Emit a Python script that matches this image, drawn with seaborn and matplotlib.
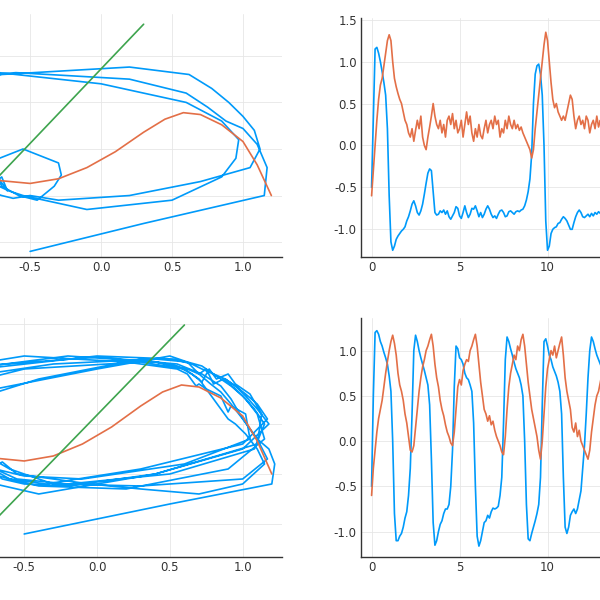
import numpy as np
import pandas as pd
import matplotlib
matplotlib.use("Agg")
import matplotlib.pyplot as plt
import seaborn as sns

t = np.round(np.arange(0, 20.05, 0.1), 1)

uA = [-0.5,0.3,1.15,1.17,1.1,1.0,0.88,0.75,0.6,0.2,
 -0.6,-1.15,-1.25,-1.2,-1.12,-1.08,-1.05,-1.02,-1.0,-0.97,
 -0.9,-0.85,-0.78,-0.7,-0.66,-0.72,-0.8,-0.83,-0.78,-0.7,
 -0.58,-0.45,-0.33,-0.28,-0.3,-0.55,-0.8,-0.83,-0.82,-0.78,
 -0.8,-0.77,-0.82,-0.78,-0.85,-0.88,-0.84,-0.8,-0.73,-0.75,
 -0.84,-0.87,-0.8,-0.72,-0.8,-0.86,-0.82,-0.75,-0.76,-0.72,
 -0.78,-0.85,-0.8,-0.86,-0.82,-0.76,-0.72,-0.76,-0.82,-0.86,
 -0.84,-0.87,-0.82,-0.78,-0.77,-0.8,-0.85,-0.84,-0.79,-0.78,
 -0.8,-0.82,-0.79,-0.78,-0.79,-0.77,-0.76,-0.72,-0.65,-0.55,
 -0.4,-0.1,0.5,0.85,0.95,0.97,0.85,0.6,0.0,-0.9,
 -1.25,-1.2,-1.05,-1.0,-0.98,-0.97,-0.93,-0.92,-0.88,-0.85,
 -0.87,-0.9,-0.95,-1.0,-1.0,-0.92,-0.85,-0.8,-0.77,-0.8,
 -0.85,-0.86,-0.84,-0.82,-0.85,-0.81,-0.84,-0.8,-0.82,-0.79,
 -0.81,-0.83,-0.8,-0.82,-0.78,-0.8,-0.84,-0.8,-0.78,-0.82,
 -0.8,-0.77,-0.8,-0.84,-0.8,-0.76,-0.78,-0.82,-0.8,-0.76,
 -0.74,-0.7,-0.62,-0.5,-0.3,0.2,0.7,1.05,1.12,1.08,
 1.0,0.9,0.78,0.62,0.2,-0.7,-1.2,-1.22,-1.15,-1.08,
 -1.03,-1.0,-0.97,-0.93,-0.9,-0.88,-0.86,-0.84,-0.85,-0.82,
 -0.8,-0.83,-0.86,-0.82,-0.79,-0.81,-0.84,-0.8,-0.78,-0.82,
 -0.85,-0.81,-0.79,-0.83,-0.8,-0.78,-0.82,-0.84,-0.8,-0.79,
 -0.81]

vA = [-0.6,-0.3,0.0,0.3,0.55,0.72,0.8,0.95,1.1,1.25,
 1.32,1.25,1.0,0.8,0.7,0.62,0.55,0.5,0.4,0.3,
 0.25,0.15,0.1,0.2,0.05,0.18,0.3,0.2,0.35,0.1,
 0.0,-0.05,0.1,0.22,0.35,0.5,0.35,0.25,0.2,0.3,
 0.15,0.25,0.1,0.3,0.35,0.25,0.38,0.2,0.3,0.15,
 0.2,0.3,0.1,0.25,0.4,0.25,0.35,0.15,0.05,0.2,
 0.1,0.25,0.12,0.08,0.2,0.3,0.15,0.25,0.3,0.2,
 0.35,0.25,0.3,0.1,0.2,0.15,0.3,0.2,0.35,0.25,
 0.2,0.3,0.2,0.25,0.18,0.22,0.15,0.1,0.05,0.0,
 -0.05,-0.15,-0.05,0.2,0.4,0.6,0.8,1.0,1.2,1.35,
 1.25,1.0,0.75,0.55,0.45,0.5,0.4,0.35,0.3,0.35,
 0.3,0.4,0.5,0.6,0.55,0.35,0.2,0.3,0.35,0.25,
 0.3,0.2,0.35,0.3,0.15,0.25,0.3,0.2,0.35,0.22,
 0.3,0.2,0.25,0.35,0.22,0.3,0.15,0.25,0.2,0.3,
 0.22,0.15,0.25,0.3,0.18,0.2,0.1,0.15,0.08,0.05,
 0.02,0.0,-0.03,0.0,-0.05,0.0,0.15,0.3,0.5,0.7,
 0.85,1.0,1.15,1.3,1.38,1.3,1.05,0.85,0.7,0.6,
 0.5,0.45,0.4,0.35,0.3,0.35,0.25,0.3,0.2,0.28,
 0.22,0.3,0.18,0.25,0.15,0.28,0.2,0.12,0.25,0.18,
 0.22,0.15,0.25,0.1,0.2,0.18,0.12,0.22,0.15,0.2,
 0.18]

uB = [-0.5,0.5,1.2,1.22,1.18,1.1,1.05,0.98,0.92,0.85,
 0.72,0.55,0.0,-0.8,-1.1,-1.1,-1.05,-1.02,-0.95,-0.85,
 -0.78,-0.6,-0.3,0.3,1.0,1.17,1.1,1.0,0.92,0.85,
 0.78,0.7,0.62,0.4,-0.2,-0.9,-1.15,-1.1,-1.0,-0.92,
 -0.88,-0.8,-0.75,-0.75,-0.7,-0.5,-0.1,0.6,1.05,1.02,
 0.92,0.9,0.85,0.75,0.7,0.68,0.62,0.55,0.2,-0.5,
 -1.05,-1.16,-1.1,-1.0,-0.9,-0.88,-0.82,-0.85,-0.78,-0.74,
 -0.75,-0.74,-0.72,-0.6,-0.4,0.2,0.9,1.15,1.1,1.02,
 0.95,0.87,0.8,0.75,0.7,0.62,0.5,0.0,-0.7,-1.08,
 -1.1,-1.02,-0.95,-0.88,-0.8,-0.7,-0.4,0.4,1.1,1.13,
 1.05,0.95,0.9,0.82,0.77,0.72,0.65,0.55,0.3,-0.4,
 -0.95,-1.02,-0.95,-0.82,-0.78,-0.75,-0.8,-0.75,-0.65,-0.55,
 -0.3,-0.05,0.3,0.7,1.0,1.15,1.1,1.02,0.95,0.9,
 0.85,0.8,0.75,0.7,0.6,0.3,-0.5,-1.05,-1.1,-1.02,
 -0.95,-0.88,-0.82,-0.75,-0.72,-0.6,-0.35,0.3,1.0,1.17,
 1.1,1.02,0.95,0.88,0.8,0.72,0.65,0.52,0.0,-0.8,
 -1.12,-1.08,-1.0,-0.92,-0.85,-0.8,-0.76,-0.7,-0.55,-0.2,
 0.5,1.08,1.15,1.08,1.0,0.92,0.85,0.78,0.72,0.62,
 0.4,-0.3,-1.0,-1.12,-1.05,-0.96,-0.9,-0.84,-0.78,-0.74,
 -0.72,-0.65,-0.5,-0.2,0.4,1.0,1.18,1.1,1.02,0.95,
 0.88]

vB = [-0.6,-0.3,-0.1,0.1,0.25,0.35,0.45,0.6,0.75,0.88,
 1.0,1.1,1.17,1.08,0.95,0.75,0.62,0.55,0.45,0.3,
 0.2,0.05,-0.1,-0.12,-0.05,0.15,0.35,0.55,0.7,0.82,
 0.9,1.0,1.05,1.12,1.18,1.05,0.85,0.7,0.6,0.45,
 0.35,0.28,0.18,0.1,0.05,-0.02,-0.05,0.1,0.35,0.6,
 0.68,0.62,0.78,0.85,0.9,0.88,1.0,1.05,1.12,1.18,
 1.05,0.85,0.65,0.5,0.35,0.3,0.22,0.28,0.18,0.22,
 0.12,0.05,0.0,-0.05,-0.12,-0.15,0.05,0.35,0.6,0.75,
 0.85,0.95,0.9,1.05,1.0,1.12,1.18,1.05,0.85,0.65,
 0.5,0.35,0.25,0.15,0.05,-0.1,-0.2,0.0,0.3,0.6,
 0.8,0.9,1.0,0.95,1.05,0.92,1.0,1.08,1.15,0.95,
 0.7,0.55,0.45,0.35,0.15,0.1,0.2,0.05,0.12,0.0,
 -0.05,-0.1,-0.15,-0.2,-0.1,0.1,0.25,0.4,0.5,0.55,
 0.65,0.75,0.85,0.95,1.05,1.12,1.05,0.85,0.7,0.55,
 0.45,0.35,0.25,0.15,0.05,-0.05,-0.1,0.05,0.3,0.55,
 0.7,0.8,0.88,0.95,1.0,1.05,1.1,1.15,1.18,1.05,
 0.85,0.68,0.55,0.45,0.32,0.22,0.12,0.05,-0.05,-0.1,
 0.0,0.25,0.5,0.65,0.78,0.88,0.95,1.02,1.08,1.12,
 1.15,1.1,0.95,0.78,0.62,0.5,0.4,0.3,0.2,0.1,
 0.02,-0.05,-0.1,-0.12,0.0,0.25,0.5,0.65,0.78,0.88,
 0.95]

# nullclines
cubic_x = [-1.1,-0.9,-0.71,-0.5,-0.3,-0.1,0.1,0.3,0.45,0.58,0.7,0.85,1.0,1.1,1.2]
cubic_y = [1.0,0.5,0.16,0.13,0.18,0.30,0.47,0.68,0.82,0.89,0.87,0.76,0.58,0.33,0.0]
lineA_x = [-1.6, 0.3]
lineA_y = [-1.2, 1.84]
lineB_x = [-1.6, 0.6]
lineB_y = [-1.81, 1.49]

phase_xticks = [-1.5, -1.0, -0.5, 0.0, 0.5, 1.0]
phase_xlabels = ["", "", "-0.5", "0.0", "0.5", "1.0"]
phase_yticks = [-0.5, 0.0, 0.5, 1.0, 1.5]

BLUE, ORANGE, GREEN = "#009AFA", "#E36F47", "#3EA44E"

sns.set_style("white")
plt.rcParams['font.family'] = ['DejaVu Sans']
fig = plt.figure(figsize=(6, 6), dpi=100)

def style(ax, xt, yt):
    ax.set_xticks(xt); ax.set_yticks(yt)
    ax.grid(True, color="#e6e6e6", lw=0.6)
    for s in ["top", "right"]:
        ax.spines[s].set_visible(False)
    for s in ["left", "bottom"]:
        ax.spines[s].set_color("#333333"); ax.spines[s].set_linewidth(1.0)
    ax.tick_params(direction="in", length=3, labelsize=8.5, colors="#333333", pad=3)
    ax.set_xlabel(""); ax.set_ylabel("")
    if ax.get_legend(): ax.get_legend().remove()

def phase(rect, u, v, lx, ly, xlim, ylim):
    n = min(len(u), len(v))
    ax = fig.add_axes(rect)
    sns.lineplot(x=u[:n], y=v[:n], sort=False, estimator=None, color=BLUE, lw=1.2, ax=ax)
    sns.lineplot(x=cubic_x, y=cubic_y, sort=False, estimator=None, color=ORANGE, lw=1.2, ax=ax)
    sns.lineplot(x=lx, y=ly, sort=False, estimator=None, color=GREEN, lw=1.2, ax=ax)
    ax.set_xlim(*xlim); ax.set_ylim(*ylim)
    style(ax, phase_xticks, phase_yticks)
    ax.set_xticklabels(phase_xlabels)
    ax.set_yticklabels([""] * len(phase_yticks))

def series(rect, u, v, ylim, yt):
    n = min(len(u), len(v), len(t))
    ax = fig.add_axes(rect)
    sns.lineplot(x=t[:n], y=u[:n], sort=False, estimator=None, color=BLUE, lw=1.2, ax=ax)
    sns.lineplot(x=t[:n], y=v[:n], sort=False, estimator=None, color=ORANGE, lw=1.2, ax=ax)
    ax.set_xlim(-0.6, 20.6); ax.set_ylim(*ylim)
    style(ax, [0, 5, 10, 15, 20], yt)
    ax.set_xticklabels(["0", "5", "10", "", ""])
    ax.set_yticklabels([f"{y:.1f}" for y in yt])

phase([-0.21, 0.5717, 0.68, 0.405], uA, vA, lineA_x, lineA_y, (-1.6, 1.275), (-0.66, 1.95))
series([0.6017, 0.5717, 0.6217, 0.3983], uA, vA, (-1.33, 1.52), [-1.0, -0.5, 0.0, 0.5, 1.0, 1.5])
phase([-0.2267, 0.0717, 0.6967, 0.3983], uB, vB, lineB_x, lineB_y, (-1.6, 1.27), (-0.83, 1.56))
series([0.6017, 0.0717, 0.6217, 0.3983], uB, vB, (-1.28, 1.36), [-1.0, -0.5, 0.0, 0.5, 1.0])

fig.savefig("out.png", dpi=100)
